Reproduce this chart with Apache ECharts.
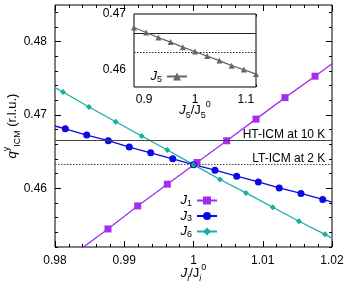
<!DOCTYPE html>
<html><head><meta charset="utf-8">
<script src="https://cdn.jsdelivr.net/npm/echarts@6/dist/echarts.min.js"></script>
<style>html,body{margin:0;padding:0;background:#fff}#c{width:349px;height:284px}</style>
</head><body><div id="c"></div>
<script>
// ---- data ----
const xJ1 = [0.98, 0.98765, 0.99194, 0.99622, 1.0005, 1.00479, 1.00903, 1.01321, 1.01755, 1.02];
const yJ1 = [0.44913, 0.45446, 0.45760, 0.46057, 0.46352, 0.46649, 0.46944, 0.47237, 0.47529, 0.47700];
const xJ3 = [0.98, 0.98149, 0.98458, 0.98770, 0.99073, 0.99382, 0.99700, 1.0000, 1.00310, 1.00624, 1.00936, 1.01239, 1.01552, 1.01866, 1.02];
const yJ3 = [0.46850, 0.46811, 0.46727, 0.46649, 0.46563, 0.46485, 0.46403, 0.46323, 0.46248, 0.46166, 0.46088, 0.46006, 0.45930, 0.45848, 0.45813];
const xJ6 = [0.98, 0.98116, 0.98491, 0.98877, 0.99252, 0.99622, 1.0000, 1.00383, 1.00758, 1.01144, 1.01523, 1.01899, 1.02];
const yJ6 = [0.47374, 0.47314, 0.47109, 0.46908, 0.46713, 0.46522, 0.46323, 0.46121, 0.45938, 0.45742, 0.45551, 0.45373, 0.45321];
const xJ5 = [0.88, 0.904, 0.928, 0.952, 0.976, 1.0, 1.024, 1.048, 1.072, 1.096, 1.12];
const yJ5 = [0.4676, 0.4667, 0.4658, 0.4650, 0.4641, 0.4633, 0.4625, 0.4617, 0.4608, 0.4601, 0.4593];
const refLevels = [0.4665, 0.46325];
const refLabels = ['HT-ICM at 10 K', 'LT-ICM at 2 K'];
const mainYTicks = [0.46, 0.47, 0.48];
const mainYMinor = [0.452,0.454,0.456,0.458,0.462,0.464,0.466,0.468,0.472,0.474,0.476,0.478,0.482,0.484];
const insetXTicks = [0.9, 1.0, 1.1];
const insetXMinor = [0.88,0.92,0.94,0.96,0.98,1.02,1.04,1.06,1.08,1.12];
const insetYTicks = [0.46, 0.47];
const insetYMinor = [0.458,0.462,0.464,0.466,0.468];

const FONT = "'Liberation Sans', Arial, sans-serif";
const C1 = '#a52cf0', C3 = '#0a0ae6', C6 = '#16b0a2', C5 = '#666666';

function withEnds(xs, ys, ends) {
  return xs.map((x, i) => {
    const it = { value: [x, ys[i]] };
    if (ends && (i === 0 || i === xs.length - 1)) it.symbol = 'none';
    return it;
  });
}
const tickLS = { color: '#000', width: 1 };
function xAx(grid, pos, min, max, o) {
  return Object.assign({
    gridIndex: grid, type: 'value', position: pos, min: min, max: max,
    axisLine: { show: false }, splitLine: { show: false },
    axisTick: { show: true, inside: true, length: 6, lineStyle: tickLS },
    axisLabel: { show: false }, nameMoveOverlap: false
  }, o || {});
}
const labelStyle = { show: true, fontSize: 12, color: '#000', fontFamily: FONT };
function mkRich(lh) {
  return {
    j: { fontStyle: 'italic', fontSize: 13, fontFamily: FONT, color: '#000', lineHeight: lh, verticalAlign: 'middle' },
    n: { fontSize: 13, fontFamily: FONT, color: '#000', lineHeight: lh, verticalAlign: 'middle' },
    sub: { fontStyle: 'italic', fontSize: 9, fontFamily: FONT, color: '#000', lineHeight: lh, verticalAlign: 'bottom' },
    subn: { fontSize: 9, fontFamily: FONT, color: '#000', lineHeight: lh, verticalAlign: 'bottom' },
    sup: { fontSize: 9, fontFamily: FONT, color: '#000', lineHeight: lh, verticalAlign: 'top' },
    r: { fontSize: 13, fontFamily: FONT, color: '#000', lineHeight: lh, verticalAlign: 'middle' }
  };
}
const rich = mkRich(20);
const richL = mkRich(15);

const chart = echarts.init(document.getElementById('c'), null, { renderer: 'canvas' });
const option = {
  animation: false,
  backgroundColor: '#fff',
  grid: [
    { left: 55, right: 17, top: 5, bottom: 37, show: true, borderColor: '#000', borderWidth: 1, backgroundColor: 'transparent', outerBoundsMode: 'none', containLabel: false },
    { left: 134, top: 14, width: 122, height: 73, show: true, borderColor: '#000', borderWidth: 1, backgroundColor: '#fff', z: 5, outerBoundsMode: 'none', containLabel: false }
  ],
  xAxis: [
    xAx(0, 'bottom', 0.98, 1.02, { interval: 0.01, minorTick: { show: true, splitNumber: 5, length: 3, lineStyle: tickLS },
      axisLabel: Object.assign({}, labelStyle, { margin: 8 }),
      name: '{j|J}{sub|i}{n|/J}{sub|i}{sup|0}', nameLocation: 'middle', nameGap: 16,
      nameTextStyle: { rich: rich } }),
    xAx(0, 'top', 0.98, 1.02, { interval: 0.01, minorTick: { show: true, splitNumber: 5, length: 3, lineStyle: tickLS } }),
    xAx(1, 'bottom', 0.88, 1.12, { axisTick: { show: true, inside: true, length: 5, lineStyle: tickLS, customValues: insetXTicks },
      axisLabel: Object.assign({}, labelStyle, { customValues: insetXTicks, margin: 7 }),
      name: '{j|J}{subn|5}{n|/J}{subn|5}{sup|0}', nameLocation: 'middle', nameGap: 13,
      nameTextStyle: { rich: rich } }),
    xAx(1, 'top', 0.88, 1.12, { axisTick: { show: true, inside: true, length: 5, lineStyle: tickLS, customValues: insetXTicks } }),
    xAx(1, 'bottom', 0.88, 1.12, { axisTick: { show: true, inside: true, length: 2.5, lineStyle: tickLS, customValues: insetXMinor } }),
    xAx(1, 'top', 0.88, 1.12, { axisTick: { show: true, inside: true, length: 2.5, lineStyle: tickLS, customValues: insetXMinor } })
  ],
  yAxis: [
    xAx(0, 'left', 0.452, 0.485, { axisTick: { show: true, inside: true, length: 6, lineStyle: tickLS, customValues: mainYTicks },
      axisLabel: Object.assign({}, labelStyle, { customValues: mainYTicks, margin: 8 }),
      name: '{j|q}{sup|y}{subn|ICM} {r|(r.l.u.)}', nameLocation: 'middle', nameGap: 33, nameRotate: 90,
      nameTextStyle: { rich: rich } }),
    xAx(0, 'right', 0.452, 0.485, { axisTick: { show: true, inside: true, length: 6, lineStyle: tickLS, customValues: mainYTicks } }),
    xAx(0, 'left', 0.452, 0.485, { axisTick: { show: true, inside: true, length: 3, lineStyle: tickLS, customValues: mainYMinor } }),
    xAx(0, 'right', 0.452, 0.485, { axisTick: { show: true, inside: true, length: 3, lineStyle: tickLS, customValues: mainYMinor } }),
    xAx(1, 'left', 0.457, 0.470, { axisTick: { show: true, inside: true, length: 5, lineStyle: tickLS, customValues: insetYTicks },
      axisLabel: Object.assign({}, labelStyle, { customValues: insetYTicks, margin: 8 }) }),
    xAx(1, 'right', 0.457, 0.470, { axisTick: { show: true, inside: true, length: 5, lineStyle: tickLS, customValues: insetYTicks } }),
    xAx(1, 'left', 0.457, 0.470, { axisTick: { show: true, inside: true, length: 2.5, lineStyle: tickLS, customValues: insetYMinor } }),
    xAx(1, 'right', 0.457, 0.470, { axisTick: { show: true, inside: true, length: 2.5, lineStyle: tickLS, customValues: insetYMinor } })
  ],
  legend: [
    { data: ['J1', 'J3', 'J6'], orient: 'vertical', right: 131, top: 194, align: 'right',
      itemWidth: 20, itemHeight: 10, itemGap: 1.5, selectedMode: false, padding: 0,
      formatter: n => '{j|J}{subn|' + n.slice(1) + '}', textStyle: { rich: richL } },
    { data: ['J5'], orient: 'vertical', right: 161, top: 70, align: 'right', z: 10, padding: 0,
      itemWidth: 20, itemHeight: 10, selectedMode: false,
      formatter: n => '{j|J}{subn|' + n.slice(1) + '}', textStyle: { rich: richL } }
  ],
  series: [
    { name: 'ref', type: 'line', xAxisIndex: 0, yAxisIndex: 0, data: [], silent: true,
      markLine: { silent: true, symbol: ['none', 'none'], precision: 6,
        data: refLevels.map((v, i) => ({ yAxis: v,
          lineStyle: { color: '#444', width: 1, type: i === 0 ? 'solid' : [1.5, 1.5] },
          label: { show: true, formatter: refLabels[i] + '  ', position: 'insideEndTop', distance: [0, 0], fontSize: 12, color: '#000', fontFamily: FONT } })) } },
    { name: 'J1', type: 'line', xAxisIndex: 0, yAxisIndex: 0, data: withEnds(xJ1, yJ1, true),
      symbol: 'rect', symbolSize: 7, color: C1, lineStyle: { width: 1.3, color: C1 }, itemStyle: { color: C1 } },
    { name: 'J3', type: 'line', xAxisIndex: 0, yAxisIndex: 0, data: withEnds(xJ3, yJ3, true),
      symbol: 'circle', symbolSize: 7, color: C3, lineStyle: { width: 1.3, color: C3 }, itemStyle: { color: C3 } },
    { name: 'J6', type: 'line', xAxisIndex: 0, yAxisIndex: 0, data: withEnds(xJ6, yJ6, true),
      symbol: 'diamond', symbolSize: 6, color: C6, lineStyle: { width: 1.3, color: C6 }, itemStyle: { color: C6 } },
    { name: 'J5', type: 'line', xAxisIndex: 2, yAxisIndex: 4, data: withEnds(xJ5, yJ5, false), z: 10,
      symbol: 'triangle', symbolSize: 6, color: C5, lineStyle: { width: 1.2, color: C5 }, itemStyle: { color: C5 },
      markLine: { silent: true, symbol: ['none', 'none'], label: { show: false }, precision: 6,
        data: refLevels.map((v, i) => ({ yAxis: v, lineStyle: { color: '#222', width: 1, type: i === 0 ? 'solid' : [1.5, 1.5] } })) } }
  ]
};
chart.setOption(option);
</script></body></html>
